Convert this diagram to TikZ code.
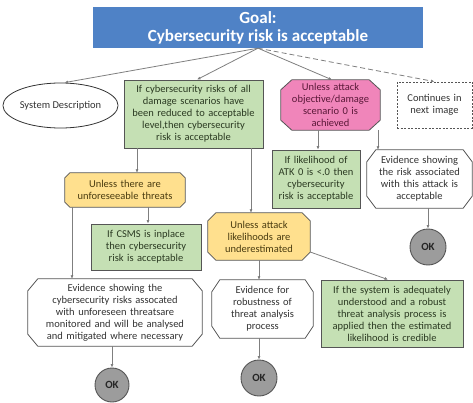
\documentclass[tikz,border=0pt]{standalone}
\usepackage{fontspec}
\setmainfont{Carlito}
\usetikzlibrary{arrows.meta,backgrounds,shapes.geometric}
\definecolor{goalfill}{HTML}{4F82C6}
\definecolor{gfill}{HTML}{C5E0B4}
\definecolor{gtext}{HTML}{2B3A22}
\definecolor{yfill}{HTML}{FFE08E}
\definecolor{ytext}{HTML}{4A3C10}
\definecolor{pfill}{HTML}{F085BA}
\definecolor{ptext}{HTML}{5A1838}
\definecolor{okfill}{HTML}{9C9C9C}
\definecolor{boxline}{HTML}{555555}
\definecolor{conn}{HTML}{7F7F7F}
\definecolor{wtext}{HTML}{333333}
\newcommand{\octo}[4]{%
  \filldraw[#4] ([xshift=#2]#1.north west) -- ([xshift=-#2]#1.north east)
    -- ([yshift=-#3]#1.north east) -- ([yshift=#3]#1.south east)
    -- ([xshift=-#2]#1.south east) -- ([xshift=#2]#1.south west)
    -- ([yshift=#3]#1.south west) -- ([yshift=-#3]#1.north west) -- cycle;}
\begin{document}
\begin{tikzpicture}[x=1pt,y=-1pt,
  font=\fontsize{10.5}{12}\selectfont,
  box/.style={inner sep=0pt, align=center},
  goalbox/.style={box, fill=goalfill, text=white, font=\fontsize{17}{18}\selectfont\bfseries},
  greenbox/.style={box, draw=boxline, fill=gfill, text=gtext, line width=0.8pt},
  octnode/.style={box},
  okcirc/.style={circle, draw=boxline, fill=okfill, line width=0.9pt, inner sep=0pt, font=\fontsize{11}{12}\selectfont\bfseries, text=black!85},
  contbox/.style={box, draw=boxline, line width=0.8pt, dash pattern=on 2pt off 1.5pt, text=wtext},
  ell/.style={ellipse, draw=black!80, line width=0.8pt, inner sep=0pt, text=wtext},
  arr/.style={draw=conn, line width=0.8pt, -{Latex[length=3.5pt,width=3pt,fill=black!80]}},
  octline/.style={draw=boxline, line width=0.8pt}
]
\useasboundingbox (0,0) rectangle (473,403);

% nodes
\node[goalbox, minimum width=330pt, minimum height=41pt] (goal) at (258,27.5) {Goal:\\Cybersecurity risk is acceptable};
\node[ell, minimum width=105pt, minimum height=45pt] (sd) at (60.5,105.5) {System Description};
\node[greenbox, minimum width=139pt, minimum height=68pt, text width=136pt] (g1) at (193.5,114) {If cybersecurity risks of all\\damage scenarios have\\been reduced to acceptable\\level,then cybersecurity\\risk is acceptable};
\node[octnode, minimum width=99pt, minimum height=50pt, text width=96pt, text=ptext] (pk) at (330.5,105) {Unless attack\\objective/damage\\scenario 0 is\\achieved};
\node[contbox, minimum width=75pt, minimum height=46pt, text width=73pt] (cont) at (434.5,105) {Continues in\\next image};
\node[octnode, minimum width=120pt, minimum height=34pt, text width=117pt, text=ytext] (y1) at (125,190) {Unless there are\\unforeseeable threats};
\node[greenbox, minimum width=110pt, minimum height=46pt, text width=107pt] (csms) at (146,247) {If CSMS is inplace\\then cybersecurity\\risk is acceptable};
\node[octnode, minimum width=102pt, minimum height=47pt, text width=99pt, text=ytext] (y2) at (259,236.5) {Unless attack\\likelihoods are\\underestimated};
\node[greenbox, minimum width=88pt, minimum height=58pt, text width=87pt] (atk) at (316,179) {If likelihood of\\ATK 0 is <.0 then\\cybersecurity\\risk is acceptable};
\node[octnode, minimum width=105pt, minimum height=58pt, text width=102pt, text=wtext] (ev3) at (419.5,179) {Evidence showing\\the risk associated\\with this attack is\\acceptable};
\node[okcirc, minimum size=36pt] (ok3) at (428,247) {OK};
\node[octnode, minimum width=174pt, minimum height=67pt, text width=171pt, text=wtext] (ev1) at (115,312.5) {Evidence showing the\\cybersecurity risks assocated\\with unforeseen threatsare\\monitored and will be analysed\\and mitigated where necessary};
\node[octnode, minimum width=101pt, minimum height=58pt, text width=98pt, text=wtext] (ev2) at (262.5,309) {Evidence for\\robustness of\\threat analysis\\process};
\node[greenbox, minimum width=142pt, minimum height=67pt, text width=140pt] (g3) at (392,313.5) {If the system is adequately\\understood and a robust\\threat analysis process is\\applied then the estimated\\likelihood is credible};
\node[okcirc, minimum size=34pt] (ok1) at (112,385) {OK};
\node[okcirc, minimum size=36pt] (ok2) at (259,378) {OK};

% octagon outlines behind text
\begin{scope}[on background layer]
\octo{pk}{11pt}{10pt}{octline, fill=pfill}
\octo{y1}{5pt}{5pt}{octline, fill=yfill}
\octo{y2}{8pt}{8pt}{octline, fill=yfill}
\octo{ev3}{9pt}{12pt}{octline, fill=white}
\octo{ev1}{10pt}{12pt}{octline, fill=white}
\octo{ev2}{8pt}{12pt}{octline, fill=white}
\end{scope}

% anchor points
\coordinate (a1) at ([xshift=-56.5pt]g1.south);
\coordinate (a2) at ([xshift=57.5pt]g1.south);
\coordinate (b1) at ([xshift=23pt]y1.south);
\coordinate (b2) at ([xshift=-53pt]y1.south);
\coordinate (c1) at ([xshift=-12.5pt]pk.south);
\coordinate (c2) at ([xshift=47.5pt]pk.south);
\coordinate (d1) at ([yshift=-15.5pt]y2.east);

% connectors
\draw[arr] (goal.south) -- ([xshift=4pt]sd.north);
\draw[arr] (goal.south) -- ([xshift=3.5pt]g1.north);
\draw[arr] (goal.south) -- ([xshift=1.5pt]pk.north);
\draw[arr, dashed, dash pattern=on 5pt off 3pt] (goal.south) -- (cont.north);
\draw[arr] (a1) -- (a1 |- y1.north);
\draw[arr] (a2) -- (a2 |- y2.north);
\draw[arr] (b1) -- (b1 |- csms.north);
\draw[arr] (b2) -- (b2 |- ev1.north);
\draw[arr] (c1) -- (c1 |- atk.north);
\draw[arr] (c2) -- (c2 |- ev3.north);
\draw[arr] (ok3.north |- ev3.south) -- (ok3.north);
\draw[arr] (y2.south) -- (y2.south |- ev2.north);
\draw[arr] (d1) -- ([xshift=-4pt]g3.north);
\draw[arr] (ok1.north |- ev1.south) -- (ok1.north);
\draw[arr] (ok2.north |- ev2.south) -- (ok2.north);
\end{tikzpicture}
\end{document}
